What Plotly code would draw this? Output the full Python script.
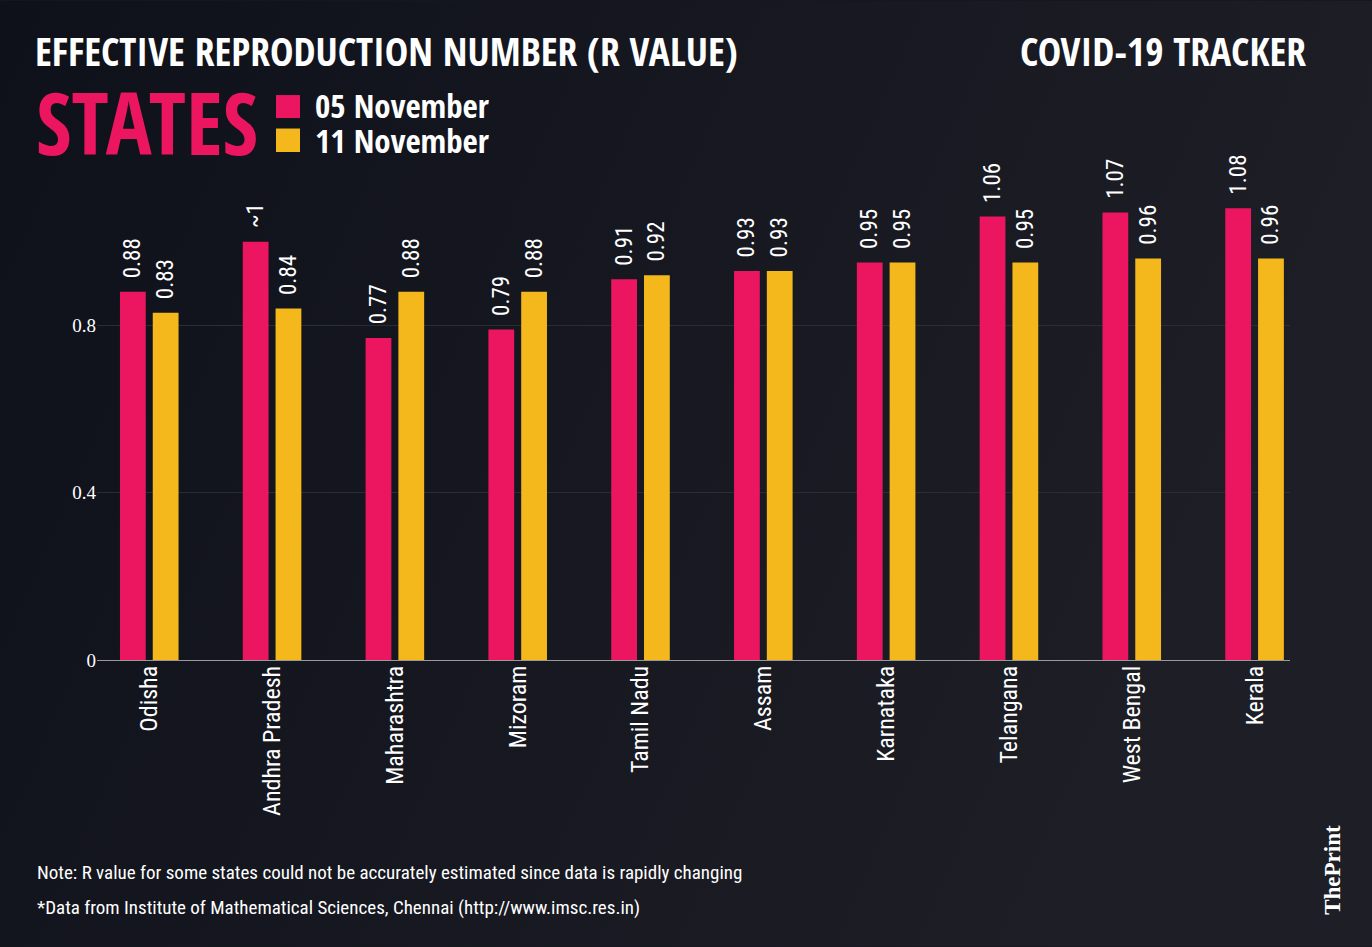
import base64
import plotly.graph_objects as go

states = ["Odisha", "Andhra Pradesh", "Maharashtra", "Mizoram", "Tamil Nadu",
          "Assam", "Karnataka", "Telangana", "West Bengal", "Kerala"]
nov05 = [0.88, 1.0, 0.77, 0.79, 0.91, 0.93, 0.95, 1.06, 1.07, 1.08]
nov11 = [0.83, 0.84, 0.88, 0.88, 0.92, 0.93, 0.95, 0.95, 0.96, 0.96]
nov05_labels = ["0.88", "~1", "0.77", "0.79", "0.91", "0.93", "0.95", "1.06", "1.07", "1.08"]
nov11_labels = ["0.83", "0.84", "0.88", "0.88", "0.92", "0.93", "0.95", "0.95", "0.96", "0.96"]
series_names = ["05 November", "11 November"]
y_ticks = [0, 0.4, 0.8]
y_tick_text = ["0", "0.4", "0.8"]

PINK = "#EC1560"
YELLOW = "#F4B81C"
BG = "#15171f"
HEAD = "Open Sans Condensed, Roboto Condensed, sans-serif"
NARROW = "Roboto Condensed, sans-serif"
SERIF = "Liberation Serif, DejaVu Serif, serif"
PAD = "\u00a0\u00a0"

W, H = 1372, 947
L, R, T, B = 97, 82, 157.5, 287
PW, PH = W - L - R, H - T - B


def px(x):
    return (x - L) / PW


def py(y):
    return (H - B - y) / PH


fig = go.Figure()
for vals, labels, name, color, off in [(nov05, nov05_labels, series_names[0], PINK, -0.24),
                                       (nov11, nov11_labels, series_names[1], YELLOW, 0.027)]:
    fig.add_trace(go.Bar(
        x=states, y=vals, name=name, marker=dict(color=color, line=dict(width=0)),
        width=0.21, offset=off, text=[PAD + t for t in labels], textposition="outside",
        textangle=-90, constraintext="none", cliponaxis=False,
        textfont=dict(color="white", size=23, family=NARROW),
    ))

svg = ('<svg xmlns="http://www.w3.org/2000/svg" width="1372" height="947">'
       '<defs><linearGradient id="g" x1="0" y1="0" x2="1" y2="0.3">'
       '<stop offset="0" stop-color="#0f111a"/><stop offset="1" stop-color="#1d1e26"/>'
       '</linearGradient></defs><rect width="1372" height="947" fill="url(#g)"/></svg>')
src = "data:image/svg+xml;base64," + base64.b64encode(svg.encode()).decode()

shapes = [
    dict(type="rect", xref="paper", yref="paper", x0=px(276), x1=px(300), y0=py(117.5), y1=py(94.5),
         fillcolor=PINK, line=dict(width=0)),
    dict(type="rect", xref="paper", yref="paper", x0=px(276), x1=px(300), y0=py(151.5), y1=py(128),
         fillcolor=YELLOW, line=dict(width=0)),
]

annotations = [
    dict(text="<b>EFFECTIVE REPRODUCTION NUMBER (R VALUE)</b>", x=px(33), y=py(50), xanchor="left",
         yanchor="middle", font=dict(family=HEAD, size=39.5, color="white")),
    dict(text="<b>COVID-19 TRACKER</b>", x=px(1308), y=py(50), xanchor="right",
         yanchor="middle", font=dict(family=HEAD, size=39.5, color="white")),
    dict(text="<b>STATES</b>", x=px(34), y=py(121), xanchor="left",
         yanchor="middle", font=dict(family=HEAD, size=86, color=PINK)),
    dict(text="<b>" + series_names[0] + "</b>", x=px(313), y=py(105), xanchor="left",
         yanchor="middle", font=dict(family=HEAD, size=33, color="white")),
    dict(text="<b>" + series_names[1] + "</b>", x=px(313), y=py(140), xanchor="left",
         yanchor="middle", font=dict(family=HEAD, size=33, color="white")),
    dict(text="Note: R value for some states could not be accurately estimated since data is rapidly changing",
         x=px(35), y=py(873), xanchor="left", yanchor="middle",
         font=dict(family=NARROW, size=19, color="white")),
    dict(text="*Data from Institute of Mathematical Sciences, Chennai (http://www.imsc.res.in)",
         x=px(35), y=py(908), xanchor="left", yanchor="middle",
         font=dict(family=NARROW, size=19, color="white")),
    dict(text="<b>ThePrint</b>", x=px(1333), y=py(870), xanchor="center", yanchor="middle",
         textangle=-90, font=dict(family=SERIF, size=23, color="white")),
]
for a in annotations:
    a.update(xref="paper", yref="paper", showarrow=False)

fig.update_layout(
    width=W, height=H, margin=dict(l=L, r=R, t=T, b=B, pad=0),
    paper_bgcolor=BG, plot_bgcolor="rgba(0,0,0,0)",
    barmode="overlay", showlegend=False,
    images=[dict(source=src, xref="paper", yref="paper", x=px(0), y=py(0), sizex=W / PW,
                 sizey=H / PH, xanchor="left", yanchor="top", sizing="stretch", layer="below")],
    shapes=shapes, annotations=annotations,
    xaxis=dict(range=[-0.427, 9.287], showgrid=False, zeroline=False, showline=False,
               tickangle=-90, tickfont=dict(family=NARROW, size=24, color="white"), ticks=""),
    yaxis=dict(range=[0, 1.2], tickvals=y_ticks, ticktext=y_tick_text, showgrid=True,
               gridcolor="#2b2d35", gridwidth=1, zeroline=True, zerolinecolor="#9a9a9a",
               zerolinewidth=1, showline=False, ticks="",
               tickfont=dict(family=SERIF, size=19, color="white")),
)

fig.write_html("out.html", config={"displayModeBar": False},
               post_script="document.body.style.margin='0';")
